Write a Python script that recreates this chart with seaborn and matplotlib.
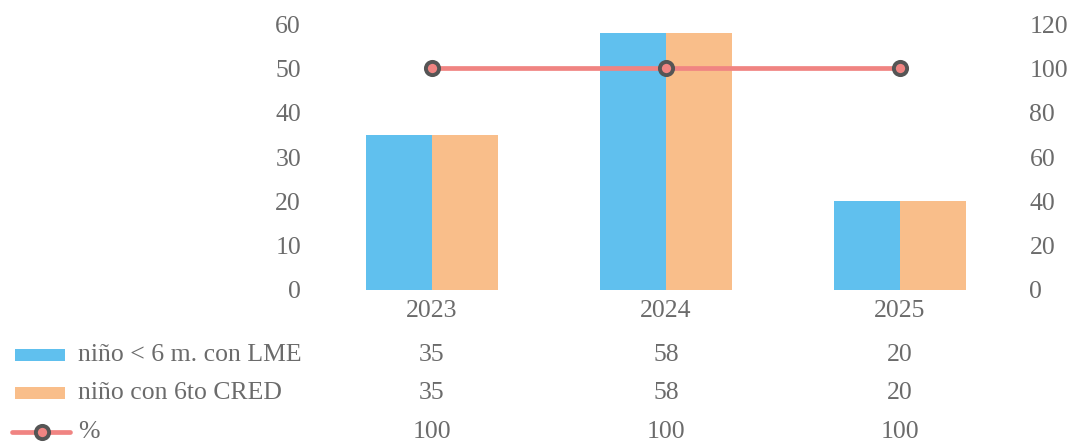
import numpy as np
import pandas as pd
import matplotlib
matplotlib.use("Agg")
import matplotlib.pyplot as plt
import matplotlib.transforms as mtransforms
from matplotlib.patches import Rectangle
from matplotlib.lines import Line2D
import seaborn as sns

# ============================ data ============================
years = ["2023", "2024", "2025"]
lme = [35, 58, 20]
cred = [35, 58, 20]
pct = [100, 100, 100]
series_names = ["niño < 6 m. con LME", "niño con 6to CRED", "%"]

BLUE = "#60C0EE"
ORANGE = "#F9BE8A"
RED = "#F08482"
GREY = "#6b6b6b"

df = pd.DataFrame({
    "year": years * 2,
    "value": lme + cred,
    "serie": [series_names[0]] * 3 + [series_names[1]] * 3,
})

sns.set_style("white")
plt.rcParams["font.family"] = ["Liberation Serif", "DejaVu Serif"]
FS = 18.5

fig = plt.figure(figsize=(10.82, 4.44), dpi=100)
ax = fig.add_axes([315 / 1082, 1 - 290 / 444, (1017 - 315) / 1082, (290 - 24) / 444])

sns.barplot(data=df, x="year", y="value", hue="serie", palette=[BLUE, ORANGE],
            width=0.564, saturation=1, linewidth=0, ax=ax, legend=False)
ax.set_ylim(0, 60)
ax.set_xlim(-0.5, 2.5)
ax.set_yticks(range(0, 61, 10))
ax.set_xlabel("")
ax.set_ylabel("")
ax.set_xticks([])
ax.tick_params(axis="y", length=0, pad=10, labelsize=FS, labelcolor=GREY)
for s in ax.spines.values():
    s.set_visible(False)

ax2 = ax.twinx()
ax2.plot(range(len(years)), pct, color=RED, lw=3.4, marker="o", markersize=9.5,
         markerfacecolor=RED, markeredgecolor="#555555", markeredgewidth=2.8, zorder=5)
ax2.set_ylim(0, 120)
ax2.set_yticks(range(0, 121, 20))
ax2.tick_params(axis="y", length=0, pad=9, labelsize=FS, labelcolor=GREY)
for s in ax2.spines.values():
    s.set_visible(False)

# ============================ data table ============================
trans = mtransforms.blended_transform_factory(ax.transData, fig.transFigure)
row_y = [1 - 355 / 444, 1 - 393 / 444, 1 - 432 / 444]
for i, yr in enumerate(years):
    ax.text(i, 1 - 311 / 444, yr, transform=trans, ha="center", va="center",
            fontsize=FS, color=GREY)
    for vals, ry in zip([lme, cred, pct], row_y):
        ax.text(i, ry, str(vals[i]), transform=trans, ha="center", va="center",
                fontsize=FS, color=GREY)

for name, ry in zip(series_names, row_y):
    fig.text(78 / 1082, ry, name, ha="left", va="center", fontsize=FS, color=GREY)

fig.patches.append(Rectangle((15 / 1082, row_y[0] - 6 / 444), 50 / 1082, 12 / 444,
                             transform=fig.transFigure, facecolor=BLUE, edgecolor="none"))
fig.patches.append(Rectangle((15 / 1082, row_y[1] - 6 / 444), 50 / 1082, 12 / 444,
                             transform=fig.transFigure, facecolor=ORANGE, edgecolor="none"))
fig.lines.append(Line2D([12 / 1082, 70 / 1082], [row_y[2], row_y[2]], transform=fig.transFigure,
                        color=RED, lw=3.4))
fig.lines.append(Line2D([42 / 1082], [row_y[2]], transform=fig.transFigure, marker="o",
                        markersize=9.5, markerfacecolor=RED, markeredgecolor="#555555",
                        markeredgewidth=2.8))

fig.savefig("out.png", dpi=100)
